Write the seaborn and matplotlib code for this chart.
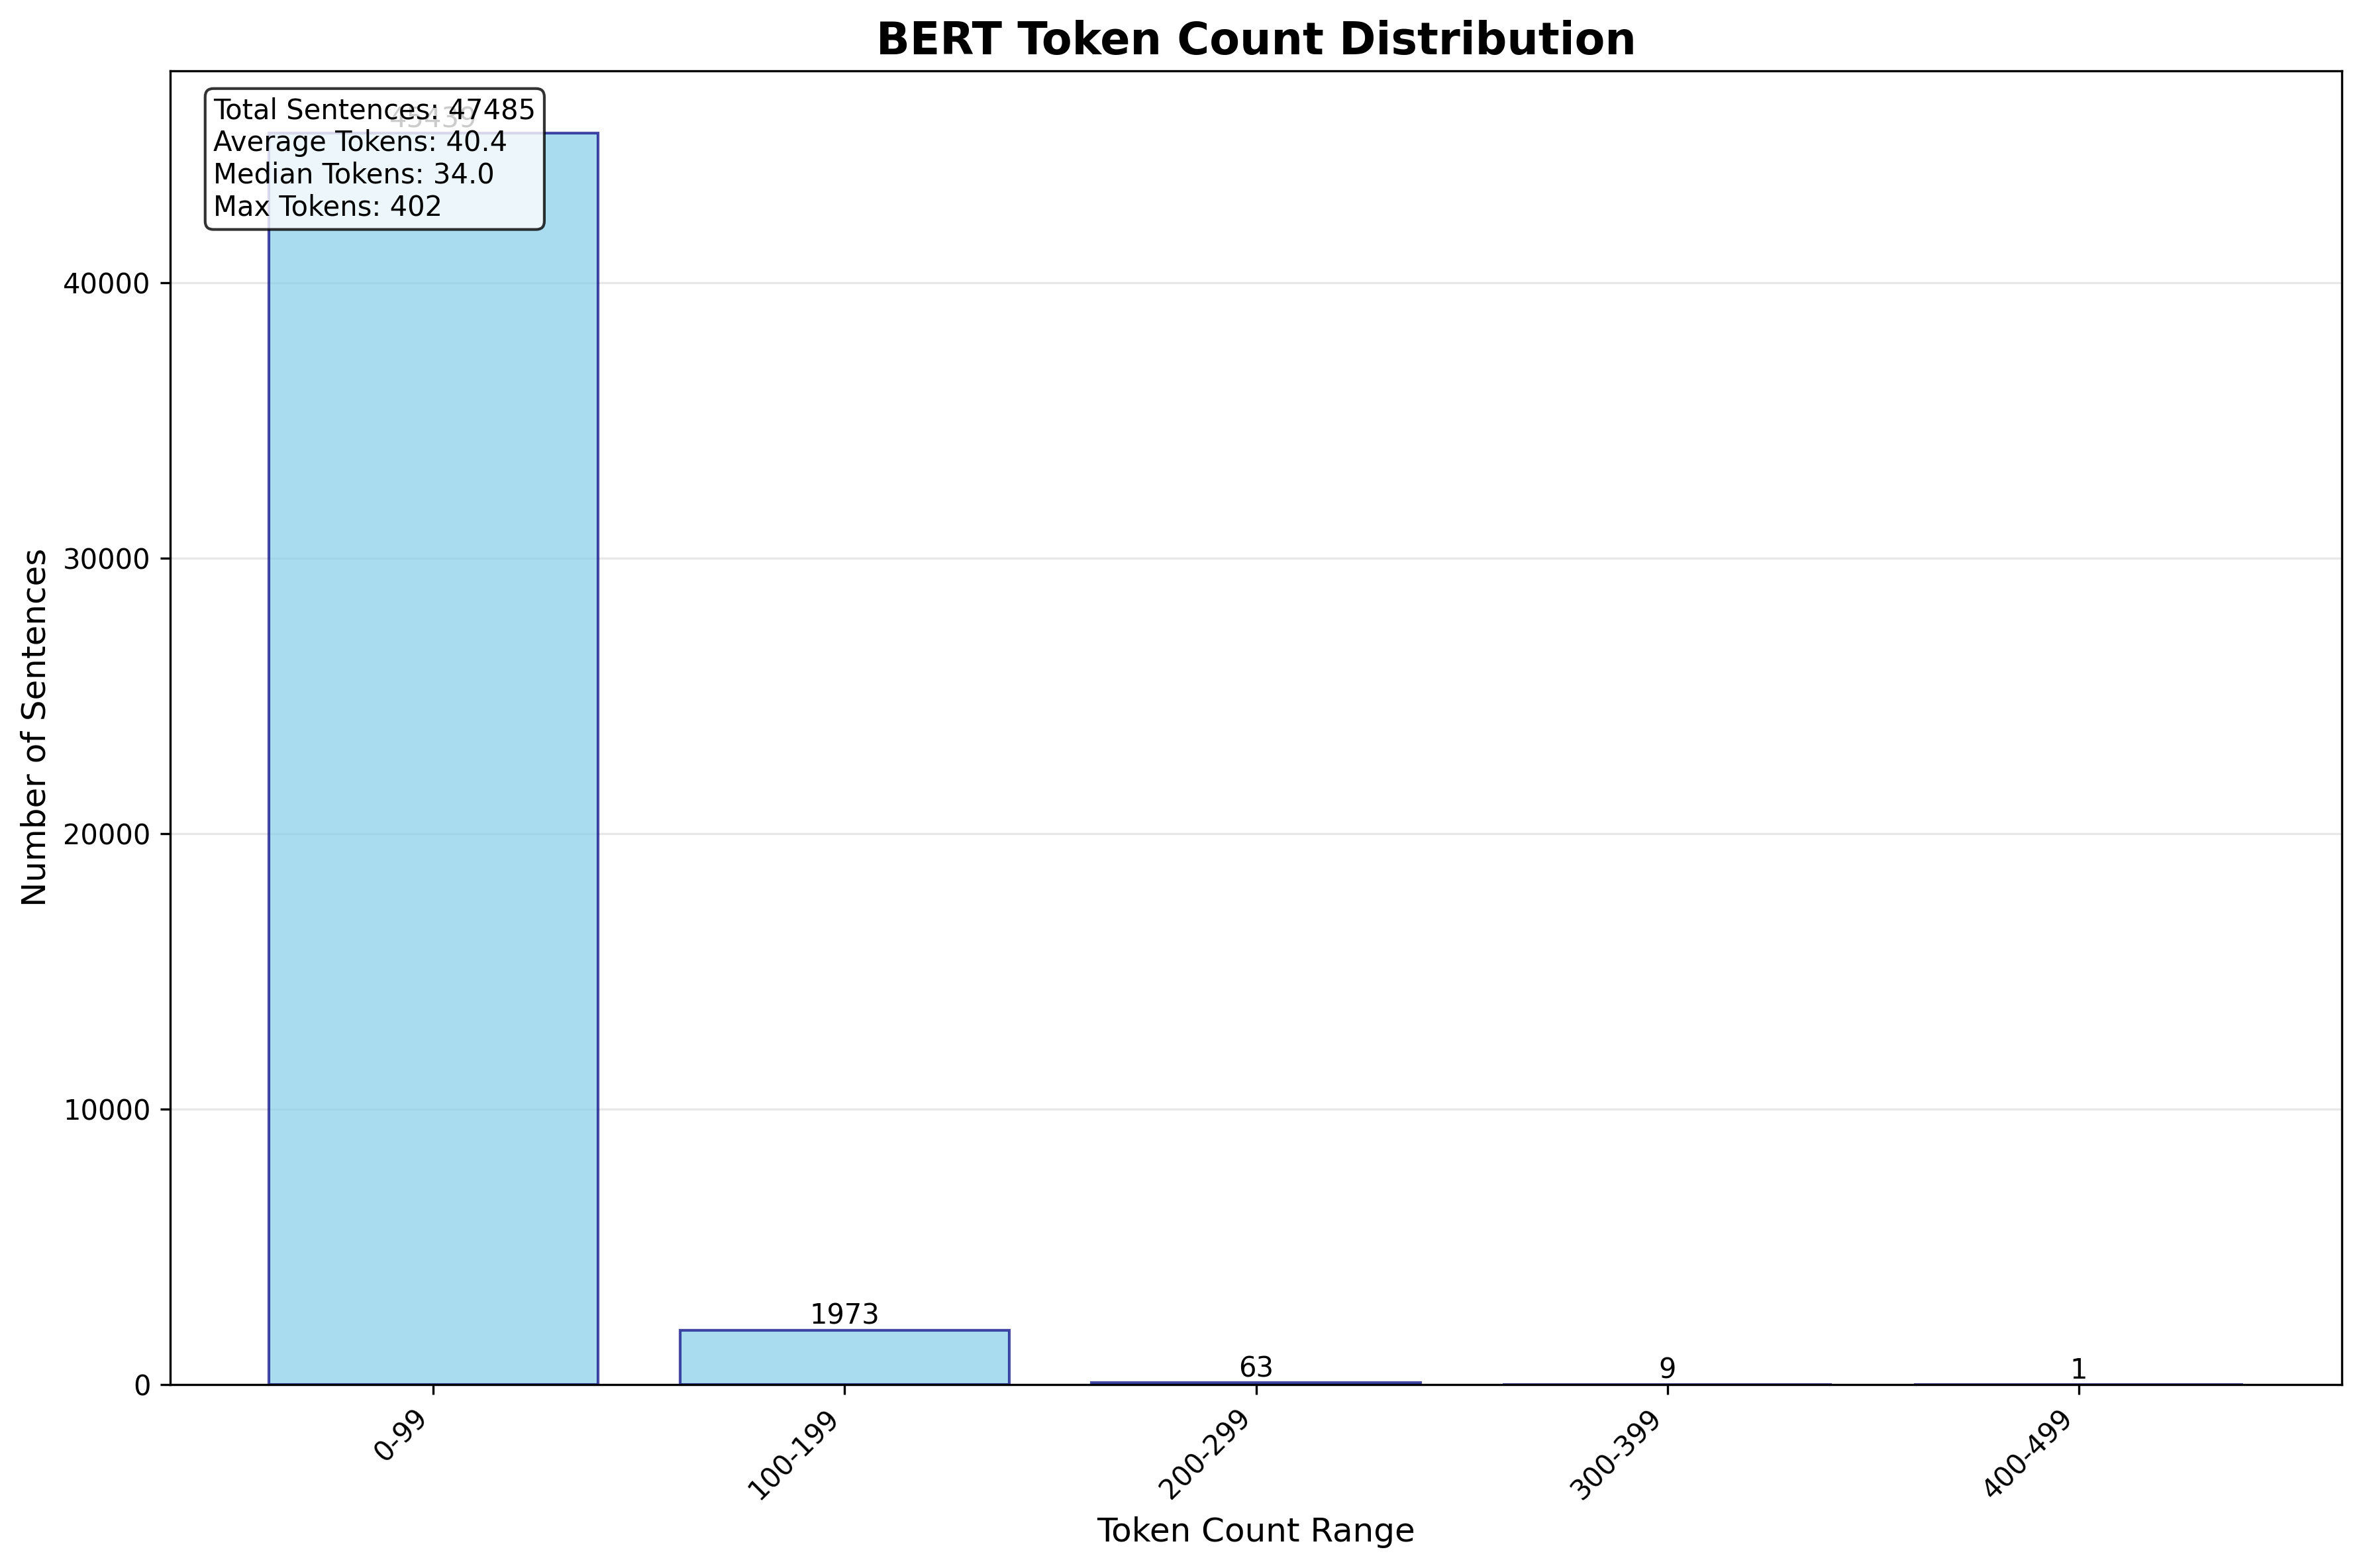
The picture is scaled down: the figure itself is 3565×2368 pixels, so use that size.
import matplotlib
matplotlib.use("Agg")
import matplotlib.pyplot as plt
import seaborn as sns
import pandas as pd

ranges = ["0-99", "100-199", "200-299", "300-399", "400-499"]
counts = [45439, 1973, 63, 9, 1]
total_sentences = 47485
avg_tokens = 40.4
median_tokens = 34.0
max_tokens = 402

df = pd.DataFrame({"range": ranges, "count": counts})

plt.rcParams['font.family'] = ['DejaVu Sans']

fig, ax = plt.subplots(figsize=(3565/300, 2368/300), dpi=300)
sns.barplot(data=df, x="range", y="count", color="skyblue", saturation=1,
            alpha=0.7, edgecolor="navy", linewidth=1, width=0.8, ax=ax)

# counts above each bar
for i, c in enumerate(counts):
    ax.text(i, c, str(c), ha="center", va="bottom", fontsize=10)

ax.set_title("BERT Token Count Distribution", fontsize=16, fontweight="bold")
ax.set_xlabel("Token Count Range", fontsize=12)
ax.set_ylabel("Number of Sentences", fontsize=12)
ax.grid(axis="y", alpha=0.3)
ax.set_axisbelow(True)
plt.setp(ax.get_xticklabels(), rotation=45, ha="right")
ax.set_xlim(-0.64, 4.64)
ax.set_ylim(0, max(counts) * 1.05)

stats = (f"Total Sentences: {total_sentences}\n"
         f"Average Tokens: {avg_tokens}\n"
         f"Median Tokens: {median_tokens}\n"
         f"Max Tokens: {max_tokens}")
ax.text(0.02, 0.98, stats, transform=ax.transAxes, va="top", fontsize=10,
        bbox=dict(boxstyle="round", facecolor="white", alpha=0.8))

fig.subplots_adjust(left=0.072, right=0.992, top=0.955, bottom=0.117)
fig.savefig("out.png", dpi=300)
